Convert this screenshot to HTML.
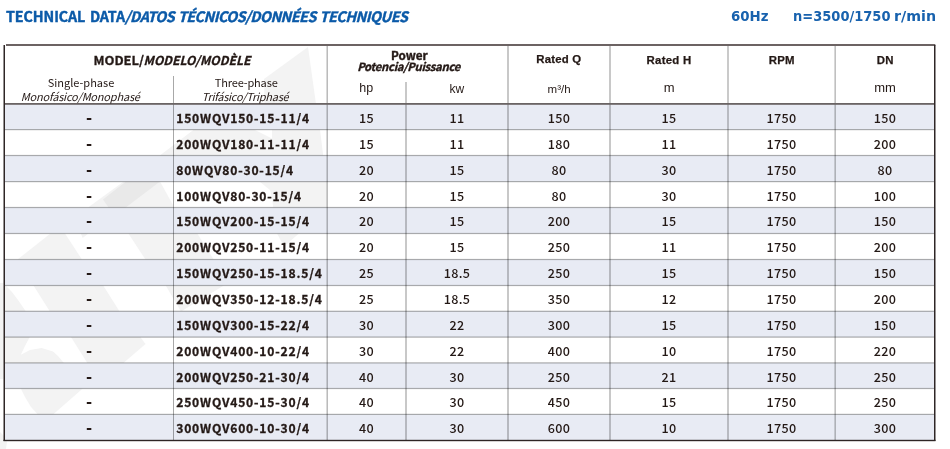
<!DOCTYPE html>
<html><head><meta charset="utf-8"><title>Technical Data</title>
<style>html,body{margin:0;padding:0;background:#fff;}body{width:950px;height:449px;position:relative;overflow:hidden;}svg text{white-space:pre;}</style>
</head><body>
<svg width="950" height="449" viewBox="0 0 950 449" style="position:absolute;left:0;top:0">
<polygon fill="#f3f3f3" points="308,47 316,104 264.5,104 264,79"/>
<polygon fill="#f3f3f3" points="194,129.5 254,129.5 272,138.6 272,129.5 320,129.5 323.2,155.6 159.8,155.6"/>
<polygon fill="#f3f3f3" points="123.7,181.5 160,181.5 173,205 173,207.6 88.1,207.6"/>
<polygon fill="#e9e9e9" points="126,181.5 160,181.5 125.7,207.6 108.6,207.6 103,199.5"/>
<polygon fill="#f3f3f3" points="259.5,181.5 327,181.5 327,207.6 273.2,207.6 272,198 270,190"/>
<polygon fill="#f3f3f3" points="50.5,233.4 65,233.4 82,259.6 17.5,259.6"/>
<polygon fill="#f3f3f3" points="80.8,233.4 88.4,233.4 82.7,238"/>
<polygon fill="#f3f3f3" points="128.4,233.4 197.3,233.4 213.7,259.6 145.5,259.6"/>
<polygon fill="#f3f3f3" points="277,233.4 299,233.4 284,246.4"/>
<polygon fill="#f3f3f3" points="0,285.4 5.7,285.4 12,292 18,300 26,311.4 0,311.4"/>
<polygon fill="#f3f3f3" points="33.5,285.4 103.2,285.4 119.6,311.4 49.9,311.4"/>
<polygon fill="#f3f3f3" points="165.7,285.4 223.8,285.4 181,311.4"/>
<polygon fill="#f3f3f3" points="0,337 29.7,337 25,346 20.8,354.8 30,350 41.7,347.9 53,351.5 58,356 63.8,363 0,363"/>
<polygon fill="#f3f3f3" points="71,337 140.3,337 145.5,344 123.4,363 87.3,363"/>
<polygon fill="#f3f3f3" points="20.8,388.4 82.7,388.4 53,414.5 37.9,414.5 31,407 25,397"/>
<polygon fill="#f3f3f3" points="0,283 3.6,283 3.6,379 0,379"/>
<polygon fill="#f3f3f3" points="0,432 4,436 7,442 6,449 0,449"/>
<g fill="#e8ebf4">
<rect x="5" y="103.60" width="929.5" height="26.00"/>
<rect x="5" y="155.50" width="929.5" height="26.10"/>
<rect x="5" y="207.50" width="929.5" height="26.00"/>
<rect x="5" y="259.50" width="929.5" height="26.00"/>
<rect x="5" y="311.30" width="929.5" height="25.80"/>
<rect x="5" y="362.90" width="929.5" height="25.60"/>
<rect x="5" y="414.40" width="929.5" height="26.00"/>
</g>
<g fill="#b0b0b0" style="mix-blend-mode:multiply">
<rect x="5" y="129.00" width="929.5" height="1.2"/>
<rect x="5" y="154.90" width="929.5" height="1.2"/>
<rect x="5" y="181.00" width="929.5" height="1.2"/>
<rect x="5" y="206.90" width="929.5" height="1.2"/>
<rect x="5" y="232.90" width="929.5" height="1.2"/>
<rect x="5" y="258.90" width="929.5" height="1.2"/>
<rect x="5" y="284.90" width="929.5" height="1.2"/>
<rect x="5" y="310.70" width="929.5" height="1.2"/>
<rect x="5" y="336.50" width="929.5" height="1.2"/>
<rect x="5" y="362.30" width="929.5" height="1.2"/>
<rect x="5" y="387.90" width="929.5" height="1.2"/>
<rect x="5" y="413.80" width="929.5" height="1.2"/>
</g>
<g style="mix-blend-mode:multiply">
<rect x="173" y="76" width="1" height="364" fill="#a8a8a8"/>
<rect x="326" y="46" width="1" height="394" fill="#dadada"/>
<rect x="327" y="46" width="1" height="394" fill="#bbbbbb"/>
<rect x="405" y="82" width="1" height="358" fill="#c8c8c8"/>
<rect x="406" y="82" width="1" height="358" fill="#c8c8c8"/>
<rect x="507" y="46" width="1" height="394" fill="#c8c8c8"/>
<rect x="508" y="46" width="1" height="394" fill="#c8c8c8"/>
<rect x="609" y="46" width="1" height="394" fill="#c8c8c8"/>
<rect x="610" y="46" width="1" height="394" fill="#c8c8c8"/>
<rect x="727" y="46" width="1" height="394" fill="#cacaca"/>
<rect x="728" y="46" width="1" height="394" fill="#cacaca"/>
<rect x="834" y="46" width="1" height="394" fill="#d8d8d8"/>
<rect x="835" y="46" width="1" height="394" fill="#c0c0c0"/>
</g>
<rect x="5" y="103" width="929.5" height="1.8" fill="#6a6464"/>
<rect x="6" y="44" width="929.3" height="2" fill="#6c6363"/>
<g fill="#2e2626">
<rect x="3.5" y="45" width="1.5" height="396"/>
<rect x="934" y="45" width="1.5" height="396"/>
<rect x="3.5" y="439.8" width="932" height="1.4"/>
</g>
<text x="6" y="21.7" font-family="'Noto Sans CJK SC',sans-serif" font-size="14.3" word-spacing="1.5" font-weight="bold" fill="#0b5aa8" stroke="#0b5aa8" stroke-width="0.4"><tspan letter-spacing="-0.1">TECHNICAL DATA</tspan><tspan font-style="italic" letter-spacing="-0.5" word-spacing="1">/DATOS TÉCNICOS/DONNÉES TECHNIQUES</tspan></text>
<g font-family="'DejaVu Sans','Liberation Sans',sans-serif" font-weight="bold" font-size="14.3" fill="#1862ae">
<text x="731" y="21.4" textLength="37.5" lengthAdjust="spacingAndGlyphs">60Hz</text>
<text x="793" y="21.4"><tspan textLength="97.5" lengthAdjust="spacingAndGlyphs">n=3500/1750</tspan> <tspan x="894" textLength="42" lengthAdjust="spacingAndGlyphs">r/min</tspan></text>
</g>
<g fill="#231815">
<text x="93.5" y="65" font-family="'Noto Sans CJK SC',sans-serif" font-size="12.2" font-weight="bold" stroke="#231815" stroke-width="0.3"><tspan textLength="50.5" lengthAdjust="spacingAndGlyphs">MODEL/</tspan><tspan x="143.5" font-style="italic" textLength="107" lengthAdjust="spacingAndGlyphs">MODELO/MODÈLE</tspan></text>
<text x="81" y="86.8" text-anchor="middle" font-family="'Noto Sans CJK SC',sans-serif" font-size="11">Single-phase</text>
<text x="80.3" y="101.2" text-anchor="middle" font-family="'Noto Sans CJK SC',sans-serif" font-size="11" font-style="italic" letter-spacing="-0.2">Monofásico/Monophasé</text>
<text x="246.2" y="86.5" text-anchor="middle" font-family="'Noto Sans CJK SC',sans-serif" font-size="11" letter-spacing="-0.15">Three-phase</text>
<text x="245.1" y="100.9" text-anchor="middle" font-family="'Noto Sans CJK SC',sans-serif" font-size="11" font-style="italic" letter-spacing="-0.28">Trifásico/Triphasé</text>
<text x="409.4" y="59.5" text-anchor="middle" font-family="'Noto Sans CJK SC',sans-serif" font-size="11.7" font-weight="bold" stroke="#231815" stroke-width="0.4">Power</text>
<text x="408.6" y="71.3" text-anchor="middle" font-family="'Noto Sans CJK SC',sans-serif" font-size="11.3" font-weight="bold" font-style="italic" letter-spacing="-0.3" stroke="#231815" stroke-width="0.35">Potencia/Puissance</text>
<text x="366.3" y="92.2" text-anchor="middle" font-family="'Liberation Sans',sans-serif" font-size="12.5">hp</text>
<text x="456.8" y="93.2" text-anchor="middle" font-family="'Liberation Sans',sans-serif" font-size="12">kw</text>
<text x="558.8" y="63.4" text-anchor="middle" font-family="'Liberation Sans',sans-serif" font-size="11.4" font-weight="bold" letter-spacing="0.2" stroke="#231815" stroke-width="0.25">Rated Q</text>
<text x="559.1" y="93.2" text-anchor="middle" font-family="'Liberation Sans',sans-serif" font-size="11.5">m³/h</text>
<text x="669" y="64" text-anchor="middle" font-family="'Liberation Sans',sans-serif" font-size="11.4" font-weight="bold" letter-spacing="0.25" stroke="#231815" stroke-width="0.25">Rated H</text>
<text x="669.2" y="92.3" text-anchor="middle" font-family="'Liberation Sans',sans-serif" font-size="13">m</text>
<text x="781.8" y="63.8" text-anchor="middle" font-family="'Liberation Sans',sans-serif" font-size="11.4" font-weight="bold" letter-spacing="0.3" stroke="#231815" stroke-width="0.25">RPM</text>
<text x="885.3" y="63.8" text-anchor="middle" font-family="'Liberation Sans',sans-serif" font-size="11.4" font-weight="bold" letter-spacing="0.4" stroke="#231815" stroke-width="0.25">DN</text>
<text x="885.1" y="92.1" text-anchor="middle" font-family="'Liberation Sans',sans-serif" font-size="13">mm</text>
<text x="89" y="124" text-anchor="middle" font-family="'Noto Sans CJK SC',sans-serif" font-size="16" font-weight="900">-</text>
<text x="176.2" y="123" font-family="'Noto Sans CJK SC',sans-serif" font-size="12.1" font-weight="bold" letter-spacing="0.82" stroke="#231815" stroke-width="0.3">150WQV150-15-11/4</text>
<text x="366.5" y="123" text-anchor="middle" font-family="'Noto Sans CJK SC',sans-serif" font-size="12.6" font-weight="500" letter-spacing="0.3">15</text>
<text x="457" y="123" text-anchor="middle" font-family="'Noto Sans CJK SC',sans-serif" font-size="12.6" font-weight="500" letter-spacing="0.3">11</text>
<text x="559" y="123" text-anchor="middle" font-family="'Noto Sans CJK SC',sans-serif" font-size="12.6" font-weight="500" letter-spacing="0.3">150</text>
<text x="669" y="123" text-anchor="middle" font-family="'Noto Sans CJK SC',sans-serif" font-size="12.6" font-weight="500" letter-spacing="0.3">15</text>
<text x="781.5" y="123" text-anchor="middle" font-family="'Noto Sans CJK SC',sans-serif" font-size="12.6" font-weight="500" letter-spacing="0.3">1750</text>
<text x="885" y="123" text-anchor="middle" font-family="'Noto Sans CJK SC',sans-serif" font-size="12.6" font-weight="500" letter-spacing="0.3">150</text>
<text x="89" y="150" text-anchor="middle" font-family="'Noto Sans CJK SC',sans-serif" font-size="16" font-weight="900">-</text>
<text x="176.2" y="149" font-family="'Noto Sans CJK SC',sans-serif" font-size="12.1" font-weight="bold" letter-spacing="0.82" stroke="#231815" stroke-width="0.3">200WQV180-11-11/4</text>
<text x="366.5" y="149" text-anchor="middle" font-family="'Noto Sans CJK SC',sans-serif" font-size="12.6" font-weight="500" letter-spacing="0.3">15</text>
<text x="457" y="149" text-anchor="middle" font-family="'Noto Sans CJK SC',sans-serif" font-size="12.6" font-weight="500" letter-spacing="0.3">11</text>
<text x="559" y="149" text-anchor="middle" font-family="'Noto Sans CJK SC',sans-serif" font-size="12.6" font-weight="500" letter-spacing="0.3">180</text>
<text x="669" y="149" text-anchor="middle" font-family="'Noto Sans CJK SC',sans-serif" font-size="12.6" font-weight="500" letter-spacing="0.3">11</text>
<text x="781.5" y="149" text-anchor="middle" font-family="'Noto Sans CJK SC',sans-serif" font-size="12.6" font-weight="500" letter-spacing="0.3">1750</text>
<text x="885" y="149" text-anchor="middle" font-family="'Noto Sans CJK SC',sans-serif" font-size="12.6" font-weight="500" letter-spacing="0.3">200</text>
<text x="89" y="176" text-anchor="middle" font-family="'Noto Sans CJK SC',sans-serif" font-size="16" font-weight="900">-</text>
<text x="176.2" y="175" font-family="'Noto Sans CJK SC',sans-serif" font-size="12.1" font-weight="bold" letter-spacing="0.82" stroke="#231815" stroke-width="0.3">80WQV80-30-15/4</text>
<text x="366.5" y="175" text-anchor="middle" font-family="'Noto Sans CJK SC',sans-serif" font-size="12.6" font-weight="500" letter-spacing="0.3">20</text>
<text x="457" y="175" text-anchor="middle" font-family="'Noto Sans CJK SC',sans-serif" font-size="12.6" font-weight="500" letter-spacing="0.3">15</text>
<text x="559" y="175" text-anchor="middle" font-family="'Noto Sans CJK SC',sans-serif" font-size="12.6" font-weight="500" letter-spacing="0.3">80</text>
<text x="669" y="175" text-anchor="middle" font-family="'Noto Sans CJK SC',sans-serif" font-size="12.6" font-weight="500" letter-spacing="0.3">30</text>
<text x="781.5" y="175" text-anchor="middle" font-family="'Noto Sans CJK SC',sans-serif" font-size="12.6" font-weight="500" letter-spacing="0.3">1750</text>
<text x="885" y="175" text-anchor="middle" font-family="'Noto Sans CJK SC',sans-serif" font-size="12.6" font-weight="500" letter-spacing="0.3">80</text>
<text x="89" y="202" text-anchor="middle" font-family="'Noto Sans CJK SC',sans-serif" font-size="16" font-weight="900">-</text>
<text x="176.2" y="201" font-family="'Noto Sans CJK SC',sans-serif" font-size="12.1" font-weight="bold" letter-spacing="0.82" stroke="#231815" stroke-width="0.3">100WQV80-30-15/4</text>
<text x="366.5" y="201" text-anchor="middle" font-family="'Noto Sans CJK SC',sans-serif" font-size="12.6" font-weight="500" letter-spacing="0.3">20</text>
<text x="457" y="201" text-anchor="middle" font-family="'Noto Sans CJK SC',sans-serif" font-size="12.6" font-weight="500" letter-spacing="0.3">15</text>
<text x="559" y="201" text-anchor="middle" font-family="'Noto Sans CJK SC',sans-serif" font-size="12.6" font-weight="500" letter-spacing="0.3">80</text>
<text x="669" y="201" text-anchor="middle" font-family="'Noto Sans CJK SC',sans-serif" font-size="12.6" font-weight="500" letter-spacing="0.3">30</text>
<text x="781.5" y="201" text-anchor="middle" font-family="'Noto Sans CJK SC',sans-serif" font-size="12.6" font-weight="500" letter-spacing="0.3">1750</text>
<text x="885" y="201" text-anchor="middle" font-family="'Noto Sans CJK SC',sans-serif" font-size="12.6" font-weight="500" letter-spacing="0.3">100</text>
<text x="89" y="227" text-anchor="middle" font-family="'Noto Sans CJK SC',sans-serif" font-size="16" font-weight="900">-</text>
<text x="176.2" y="226" font-family="'Noto Sans CJK SC',sans-serif" font-size="12.1" font-weight="bold" letter-spacing="0.82" stroke="#231815" stroke-width="0.3">150WQV200-15-15/4</text>
<text x="366.5" y="226" text-anchor="middle" font-family="'Noto Sans CJK SC',sans-serif" font-size="12.6" font-weight="500" letter-spacing="0.3">20</text>
<text x="457" y="226" text-anchor="middle" font-family="'Noto Sans CJK SC',sans-serif" font-size="12.6" font-weight="500" letter-spacing="0.3">15</text>
<text x="559" y="226" text-anchor="middle" font-family="'Noto Sans CJK SC',sans-serif" font-size="12.6" font-weight="500" letter-spacing="0.3">200</text>
<text x="669" y="226" text-anchor="middle" font-family="'Noto Sans CJK SC',sans-serif" font-size="12.6" font-weight="500" letter-spacing="0.3">15</text>
<text x="781.5" y="226" text-anchor="middle" font-family="'Noto Sans CJK SC',sans-serif" font-size="12.6" font-weight="500" letter-spacing="0.3">1750</text>
<text x="885" y="226" text-anchor="middle" font-family="'Noto Sans CJK SC',sans-serif" font-size="12.6" font-weight="500" letter-spacing="0.3">150</text>
<text x="89" y="253" text-anchor="middle" font-family="'Noto Sans CJK SC',sans-serif" font-size="16" font-weight="900">-</text>
<text x="176.2" y="252" font-family="'Noto Sans CJK SC',sans-serif" font-size="12.1" font-weight="bold" letter-spacing="0.82" stroke="#231815" stroke-width="0.3">200WQV250-11-15/4</text>
<text x="366.5" y="252" text-anchor="middle" font-family="'Noto Sans CJK SC',sans-serif" font-size="12.6" font-weight="500" letter-spacing="0.3">20</text>
<text x="457" y="252" text-anchor="middle" font-family="'Noto Sans CJK SC',sans-serif" font-size="12.6" font-weight="500" letter-spacing="0.3">15</text>
<text x="559" y="252" text-anchor="middle" font-family="'Noto Sans CJK SC',sans-serif" font-size="12.6" font-weight="500" letter-spacing="0.3">250</text>
<text x="669" y="252" text-anchor="middle" font-family="'Noto Sans CJK SC',sans-serif" font-size="12.6" font-weight="500" letter-spacing="0.3">11</text>
<text x="781.5" y="252" text-anchor="middle" font-family="'Noto Sans CJK SC',sans-serif" font-size="12.6" font-weight="500" letter-spacing="0.3">1750</text>
<text x="885" y="252" text-anchor="middle" font-family="'Noto Sans CJK SC',sans-serif" font-size="12.6" font-weight="500" letter-spacing="0.3">200</text>
<text x="89" y="279" text-anchor="middle" font-family="'Noto Sans CJK SC',sans-serif" font-size="16" font-weight="900">-</text>
<text x="176.2" y="278" font-family="'Noto Sans CJK SC',sans-serif" font-size="12.1" font-weight="bold" letter-spacing="0.82" stroke="#231815" stroke-width="0.3">150WQV250-15-18.5/4</text>
<text x="366.5" y="278" text-anchor="middle" font-family="'Noto Sans CJK SC',sans-serif" font-size="12.6" font-weight="500" letter-spacing="0.3">25</text>
<text x="457" y="278" text-anchor="middle" font-family="'Noto Sans CJK SC',sans-serif" font-size="12.6" font-weight="500" letter-spacing="0.3">18.5</text>
<text x="559" y="278" text-anchor="middle" font-family="'Noto Sans CJK SC',sans-serif" font-size="12.6" font-weight="500" letter-spacing="0.3">250</text>
<text x="669" y="278" text-anchor="middle" font-family="'Noto Sans CJK SC',sans-serif" font-size="12.6" font-weight="500" letter-spacing="0.3">15</text>
<text x="781.5" y="278" text-anchor="middle" font-family="'Noto Sans CJK SC',sans-serif" font-size="12.6" font-weight="500" letter-spacing="0.3">1750</text>
<text x="885" y="278" text-anchor="middle" font-family="'Noto Sans CJK SC',sans-serif" font-size="12.6" font-weight="500" letter-spacing="0.3">150</text>
<text x="89" y="305" text-anchor="middle" font-family="'Noto Sans CJK SC',sans-serif" font-size="16" font-weight="900">-</text>
<text x="176.2" y="304" font-family="'Noto Sans CJK SC',sans-serif" font-size="12.1" font-weight="bold" letter-spacing="0.82" stroke="#231815" stroke-width="0.3">200WQV350-12-18.5/4</text>
<text x="366.5" y="304" text-anchor="middle" font-family="'Noto Sans CJK SC',sans-serif" font-size="12.6" font-weight="500" letter-spacing="0.3">25</text>
<text x="457" y="304" text-anchor="middle" font-family="'Noto Sans CJK SC',sans-serif" font-size="12.6" font-weight="500" letter-spacing="0.3">18.5</text>
<text x="559" y="304" text-anchor="middle" font-family="'Noto Sans CJK SC',sans-serif" font-size="12.6" font-weight="500" letter-spacing="0.3">350</text>
<text x="669" y="304" text-anchor="middle" font-family="'Noto Sans CJK SC',sans-serif" font-size="12.6" font-weight="500" letter-spacing="0.3">12</text>
<text x="781.5" y="304" text-anchor="middle" font-family="'Noto Sans CJK SC',sans-serif" font-size="12.6" font-weight="500" letter-spacing="0.3">1750</text>
<text x="885" y="304" text-anchor="middle" font-family="'Noto Sans CJK SC',sans-serif" font-size="12.6" font-weight="500" letter-spacing="0.3">200</text>
<text x="89" y="331" text-anchor="middle" font-family="'Noto Sans CJK SC',sans-serif" font-size="16" font-weight="900">-</text>
<text x="176.2" y="330" font-family="'Noto Sans CJK SC',sans-serif" font-size="12.1" font-weight="bold" letter-spacing="0.82" stroke="#231815" stroke-width="0.3">150WQV300-15-22/4</text>
<text x="366.5" y="330" text-anchor="middle" font-family="'Noto Sans CJK SC',sans-serif" font-size="12.6" font-weight="500" letter-spacing="0.3">30</text>
<text x="457" y="330" text-anchor="middle" font-family="'Noto Sans CJK SC',sans-serif" font-size="12.6" font-weight="500" letter-spacing="0.3">22</text>
<text x="559" y="330" text-anchor="middle" font-family="'Noto Sans CJK SC',sans-serif" font-size="12.6" font-weight="500" letter-spacing="0.3">300</text>
<text x="669" y="330" text-anchor="middle" font-family="'Noto Sans CJK SC',sans-serif" font-size="12.6" font-weight="500" letter-spacing="0.3">15</text>
<text x="781.5" y="330" text-anchor="middle" font-family="'Noto Sans CJK SC',sans-serif" font-size="12.6" font-weight="500" letter-spacing="0.3">1750</text>
<text x="885" y="330" text-anchor="middle" font-family="'Noto Sans CJK SC',sans-serif" font-size="12.6" font-weight="500" letter-spacing="0.3">150</text>
<text x="89" y="357" text-anchor="middle" font-family="'Noto Sans CJK SC',sans-serif" font-size="16" font-weight="900">-</text>
<text x="176.2" y="356" font-family="'Noto Sans CJK SC',sans-serif" font-size="12.1" font-weight="bold" letter-spacing="0.82" stroke="#231815" stroke-width="0.3">200WQV400-10-22/4</text>
<text x="366.5" y="356" text-anchor="middle" font-family="'Noto Sans CJK SC',sans-serif" font-size="12.6" font-weight="500" letter-spacing="0.3">30</text>
<text x="457" y="356" text-anchor="middle" font-family="'Noto Sans CJK SC',sans-serif" font-size="12.6" font-weight="500" letter-spacing="0.3">22</text>
<text x="559" y="356" text-anchor="middle" font-family="'Noto Sans CJK SC',sans-serif" font-size="12.6" font-weight="500" letter-spacing="0.3">400</text>
<text x="669" y="356" text-anchor="middle" font-family="'Noto Sans CJK SC',sans-serif" font-size="12.6" font-weight="500" letter-spacing="0.3">10</text>
<text x="781.5" y="356" text-anchor="middle" font-family="'Noto Sans CJK SC',sans-serif" font-size="12.6" font-weight="500" letter-spacing="0.3">1750</text>
<text x="885" y="356" text-anchor="middle" font-family="'Noto Sans CJK SC',sans-serif" font-size="12.6" font-weight="500" letter-spacing="0.3">220</text>
<text x="89" y="383" text-anchor="middle" font-family="'Noto Sans CJK SC',sans-serif" font-size="16" font-weight="900">-</text>
<text x="176.2" y="382" font-family="'Noto Sans CJK SC',sans-serif" font-size="12.1" font-weight="bold" letter-spacing="0.82" stroke="#231815" stroke-width="0.3">200WQV250-21-30/4</text>
<text x="366.5" y="382" text-anchor="middle" font-family="'Noto Sans CJK SC',sans-serif" font-size="12.6" font-weight="500" letter-spacing="0.3">40</text>
<text x="457" y="382" text-anchor="middle" font-family="'Noto Sans CJK SC',sans-serif" font-size="12.6" font-weight="500" letter-spacing="0.3">30</text>
<text x="559" y="382" text-anchor="middle" font-family="'Noto Sans CJK SC',sans-serif" font-size="12.6" font-weight="500" letter-spacing="0.3">250</text>
<text x="669" y="382" text-anchor="middle" font-family="'Noto Sans CJK SC',sans-serif" font-size="12.6" font-weight="500" letter-spacing="0.3">21</text>
<text x="781.5" y="382" text-anchor="middle" font-family="'Noto Sans CJK SC',sans-serif" font-size="12.6" font-weight="500" letter-spacing="0.3">1750</text>
<text x="885" y="382" text-anchor="middle" font-family="'Noto Sans CJK SC',sans-serif" font-size="12.6" font-weight="500" letter-spacing="0.3">250</text>
<text x="89" y="408" text-anchor="middle" font-family="'Noto Sans CJK SC',sans-serif" font-size="16" font-weight="900">-</text>
<text x="176.2" y="407" font-family="'Noto Sans CJK SC',sans-serif" font-size="12.1" font-weight="bold" letter-spacing="0.82" stroke="#231815" stroke-width="0.3">250WQV450-15-30/4</text>
<text x="366.5" y="407" text-anchor="middle" font-family="'Noto Sans CJK SC',sans-serif" font-size="12.6" font-weight="500" letter-spacing="0.3">40</text>
<text x="457" y="407" text-anchor="middle" font-family="'Noto Sans CJK SC',sans-serif" font-size="12.6" font-weight="500" letter-spacing="0.3">30</text>
<text x="559" y="407" text-anchor="middle" font-family="'Noto Sans CJK SC',sans-serif" font-size="12.6" font-weight="500" letter-spacing="0.3">450</text>
<text x="669" y="407" text-anchor="middle" font-family="'Noto Sans CJK SC',sans-serif" font-size="12.6" font-weight="500" letter-spacing="0.3">15</text>
<text x="781.5" y="407" text-anchor="middle" font-family="'Noto Sans CJK SC',sans-serif" font-size="12.6" font-weight="500" letter-spacing="0.3">1750</text>
<text x="885" y="407" text-anchor="middle" font-family="'Noto Sans CJK SC',sans-serif" font-size="12.6" font-weight="500" letter-spacing="0.3">250</text>
<text x="89" y="434" text-anchor="middle" font-family="'Noto Sans CJK SC',sans-serif" font-size="16" font-weight="900">-</text>
<text x="176.2" y="433" font-family="'Noto Sans CJK SC',sans-serif" font-size="12.1" font-weight="bold" letter-spacing="0.82" stroke="#231815" stroke-width="0.3">300WQV600-10-30/4</text>
<text x="366.5" y="433" text-anchor="middle" font-family="'Noto Sans CJK SC',sans-serif" font-size="12.6" font-weight="500" letter-spacing="0.3">40</text>
<text x="457" y="433" text-anchor="middle" font-family="'Noto Sans CJK SC',sans-serif" font-size="12.6" font-weight="500" letter-spacing="0.3">30</text>
<text x="559" y="433" text-anchor="middle" font-family="'Noto Sans CJK SC',sans-serif" font-size="12.6" font-weight="500" letter-spacing="0.3">600</text>
<text x="669" y="433" text-anchor="middle" font-family="'Noto Sans CJK SC',sans-serif" font-size="12.6" font-weight="500" letter-spacing="0.3">10</text>
<text x="781.5" y="433" text-anchor="middle" font-family="'Noto Sans CJK SC',sans-serif" font-size="12.6" font-weight="500" letter-spacing="0.3">1750</text>
<text x="885" y="433" text-anchor="middle" font-family="'Noto Sans CJK SC',sans-serif" font-size="12.6" font-weight="500" letter-spacing="0.3">300</text>
</g>
</svg>
</body></html>
